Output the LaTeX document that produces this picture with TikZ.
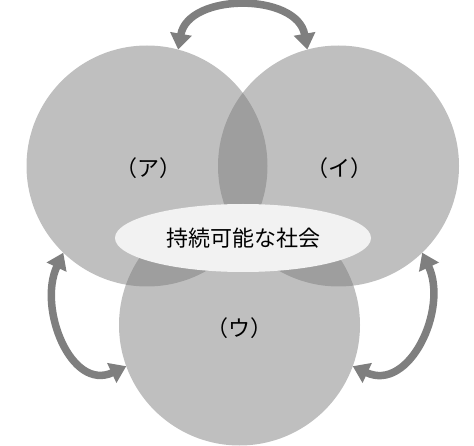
\documentclass[tikz,border=0pt]{standalone}
\usepackage{fontspec}
\usepackage{tikz}
\usetikzlibrary{arrows.meta,shapes.geometric}
\newfontfamily\jpfont{Noto Sans CJK JP}

\definecolor{ringgray}{RGB}{122,122,122}
\definecolor{arrowgray}{RGB}{127,127,127}
\definecolor{ovalgray}{RGB}{242,242,242}

\tikzset{
  ring/.style={circle,minimum size=241,inner sep=0,outer sep=0,fill=ringgray,fill opacity=0.48,text opacity=1},
  tag/.style={font=\jpfont\fontsize{22}{26}\selectfont},
  oval/.style={ellipse,minimum width=256,minimum height=68,inner sep=0,fill=ovalgray,
    font=\jpfont\fontsize{22}{26}\selectfont},
  twoway/.style={draw=arrowgray,line width=7.5,
    {Triangle[width=21,length=16]}-{Triangle[width=21,length=16]}}
}

\begin{document}
\begin{tikzpicture}[x=1pt,y=1pt]
\useasboundingbox (0,0) rectangle (474,445);

%Shape: Circle
\node [ring] (a) at (147,279) {};
%Shape: Circle
\node [ring] (b) at (338.5,279) {};
%Shape: Circle
\node [ring] (c) at (239.5,120) {};

% Text Node
\node [tag] (ta) at (148,277) {（ア）};
% Text Node
\node [tag] (tb) at (339,277) {（イ）};
% Text Node
\node [tag] (tc) at (239,117) {（ウ）};

%Shape: Ellipse
\node [oval] (soc) at (243,207) {持続可能な社会};

%Curve Lines
\draw [twoway] (a.75) to [out=80,in=100,looseness=1.15] (b.105);
%Curve Lines
\draw [twoway] (a.226) to [out=245,in=205,looseness=1.2] (c.200);
%Curve Lines
\draw [twoway] (b.314) to [out=295,in=335,looseness=1.2] (c.340);

\end{tikzpicture}
\end{document}
